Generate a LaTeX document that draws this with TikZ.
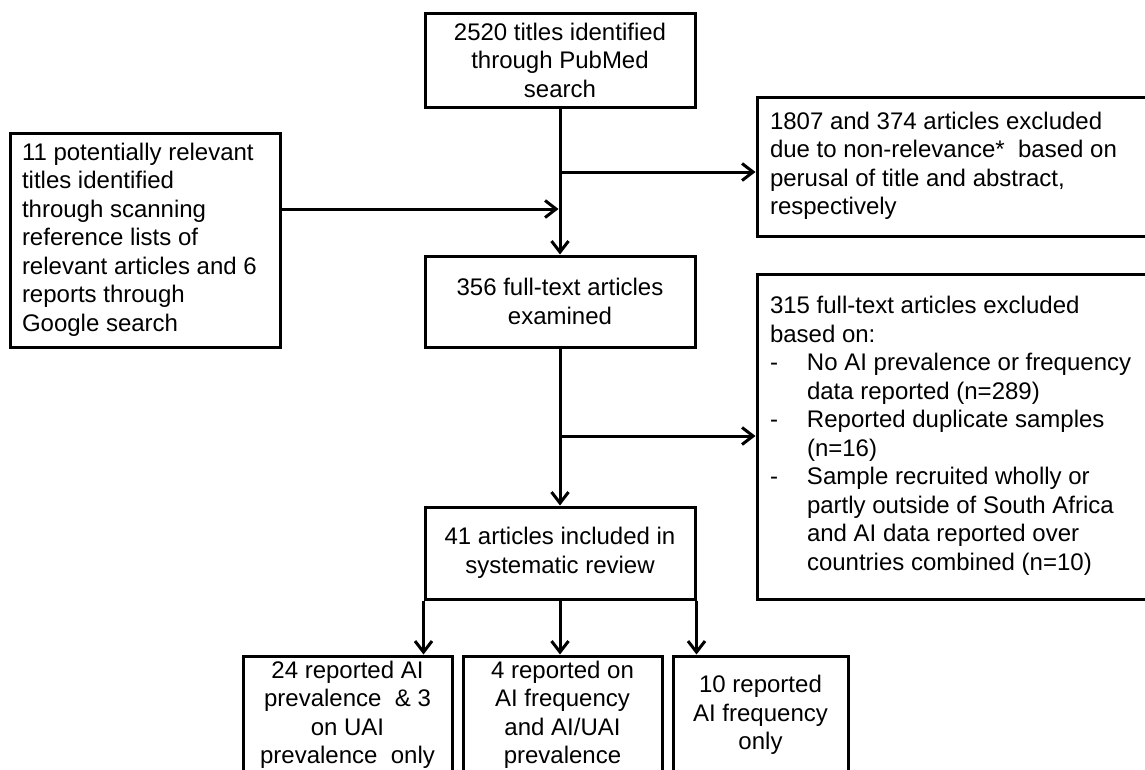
\documentclass[tikz,border=0pt]{standalone}
\usepackage{fontspec}
\setmainfont{Liberation Sans}
\usetikzlibrary{arrows.meta}
% left-aligned block of lines of a fixed width
\newcommand\flushtab[2]{\makebox[#1][l]{\begin{tabular}{@{}l@{}}#2\end{tabular}}}
\begin{document}
\begin{tikzpicture}[x=1pt,y=-1pt,
  box/.style={draw, line width=3pt, inner sep=0pt, font=\fontsize{24}{28.5}\selectfont},
  cbox/.style={box, align=center},
  lbox/.style={box, inner xsep=13pt},
  flow/.style={line width=3pt, -{Straight Barb[length=11pt,width=17pt]}}
]
\useasboundingbox (0,0) rectangle (1145,769);
\clip (0,0) rectangle (1145,769);
\fill[white] (0,0) rectangle (1145,769);

% main column
\node[cbox, minimum width=270pt, minimum height=94pt] (pubmed) at (560,60)
  {2520 titles identified\\through PubMed\\search};
\node[cbox, minimum width=270pt, minimum height=91pt] (fulltext) at (560,301.5)
  {356 full-text articles\\examined};
\node[cbox, minimum width=270pt, minimum height=92pt] (included) at (560,553)
  {41 articles included in\\systematic review};

% extra sources
\node[lbox, inner xsep=12pt, minimum height=214pt] (extra) at (145,240)
  {\flushtab{246pt}{11 potentially relevant\\titles identified\\through scanning\\reference lists of\\relevant articles and 6\\reports through\\Google search}};

% exclusions
\node[lbox, minimum height=139pt] (excl1) at (967,166.5)
  {\flushtab{394pt}{1807 and 374 articles excluded\\due to non-relevance*\ \ based on\\perusal of title and abstract,\\respectively}};
\node[lbox, minimum height=325pt] (excl2) at (967,436.5)
  {\makebox[394pt][l]{\begin{tabular}{@{}l@{}l@{}}
    \multicolumn{2}{@{}l@{}}{315 full-text articles excluded}\\
    \multicolumn{2}{@{}l@{}}{based on:}\\
    \makebox[37pt][l]{-} & No AI prevalence or frequency\\
     & data reported (n=289)\\
    - & Reported duplicate samples\\
     & (n=16)\\
    - & Sample recruited wholly or\\
     & partly outside of South Africa\\
     & and AI data reported over\\
     & countries combined (n=10)
  \end{tabular}}};

% results
\node[cbox, minimum width=209pt, minimum height=118pt] (resA) at (347.5,715)
  {24 reported AI\\prevalence \ \& 3\\on UAI\\prevalence \ only};
\node[cbox, minimum width=199pt, minimum height=118pt] (resB) at (562.5,715)
  {4 reported on\\AI frequency\\and AI/UAI\\prevalence};
\node[cbox, minimum width=175pt, minimum height=118pt] (resC) at (760.5,715)
  {10 reported\\AI frequency\\only};

% junctions on the main column
\coordinate (j1) at (560,172);
\coordinate (j2) at (560,209);
\coordinate (j3) at (560,436);

\draw[flow] (pubmed.south) -- (fulltext.north);
\draw[flow] (j1) -- (j1 -| excl1.west);
\draw[flow, shorten >=1.5pt] (extra.east |- j2) -- (j2);
\draw[flow] (fulltext.south) -- (included.north);
\draw[flow] (j3) -- (j3 -| excl2.west);
\draw[flow] (included.south west) -- (included.south west |- resA.north);
\draw[flow] (included.south) -- (included.south |- resB.north);
\draw[flow] (included.south east) -- (included.south east |- resC.north);
\end{tikzpicture}
\end{document}
